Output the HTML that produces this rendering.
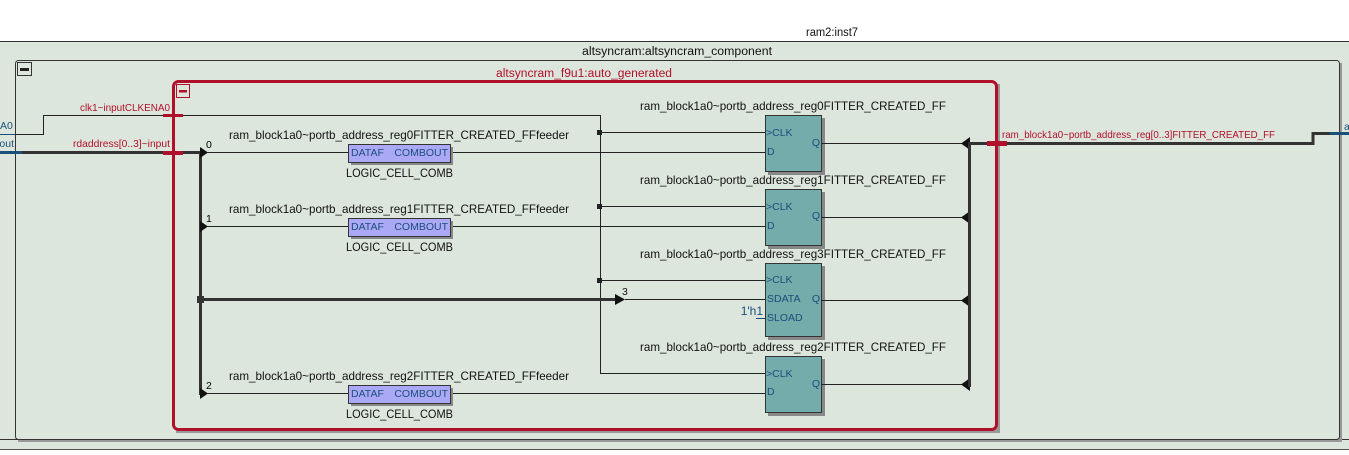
<!DOCTYPE html>
<html><head><style>
html,body{margin:0;padding:0;background:#fff;}
svg{display:block;font-family:"Liberation Sans","DejaVu Sans",sans-serif;}
</style></head><body>
<svg width="1349" height="455" viewBox="0 0 1349 455" xmlns="http://www.w3.org/2000/svg">
<rect x="0" y="0" width="1349" height="455" fill="#fff"/>
<text x="832" y="36" font-size="11.5" text-anchor="middle" fill="#111" textLength="52" lengthAdjust="spacingAndGlyphs">ram2:inst7</text>
<rect x="0" y="41" width="1349" height="399" fill="#dde6dd"/>
<line x1="0" y1="41.5" x2="1349" y2="41.5" stroke="#333" stroke-width="1"/>
<line x1="0" y1="439.5" x2="1349" y2="439.5" stroke="#333"/>
<line x1="0" y1="449.5" x2="1349" y2="449.5" stroke="#555"/>
<rect x="0" y="440" width="1349" height="9" fill="#dde6dd"/>
<text x="677" y="55" font-size="11.5" text-anchor="middle" fill="#111" textLength="190" lengthAdjust="spacingAndGlyphs">altsyncram:altsyncram_component</text>
<rect x="18" y="63" width="1324" height="379" fill="#999"/>
<rect x="15.5" y="60.5" width="1324" height="379" rx="3" fill="#dde6dd" stroke="#333"/>
<rect x="17.5" y="62.5" width="14" height="13" fill="none" stroke="#333"/>
<rect x="20" y="68" width="9" height="3" fill="#222"/>
<text x="584" y="77" font-size="11.5" text-anchor="middle" fill="#b0102a" textLength="176" lengthAdjust="spacingAndGlyphs">altsyncram_f9u1:auto_generated</text>
<rect x="176" y="84" width="824" height="349" fill="#999"/>
<rect x="173.5" y="81.5" width="823" height="348" rx="5" fill="#dde6dd" stroke="#b0102a" stroke-width="3"/>
<rect x="176.5" y="84.5" width="13" height="13" fill="none" stroke="#b0102a"/>
<rect x="179" y="90" width="8" height="2.5" fill="#b0102a"/>
<polyline points="0,134.5 43.5,134.5 43.5,115.5 600.5,115.5 600.5,373.5 765,373.5" fill="none" stroke="#222"/>
<line x1="0" y1="134.5" x2="15" y2="134.5" stroke="#1a4f7a"/>
<text x="0" y="129" font-size="10.5" fill="#1a4f7a">A0</text>
<rect x="163" y="114" width="20" height="3" fill="#b0102a"/>
<text x="170" y="111" font-size="10.5" text-anchor="end" fill="#b0102a" textLength="90" lengthAdjust="spacingAndGlyphs">clk1~inputCLKENA0</text>
<line x1="600" y1="132.5" x2="765" y2="132.5" stroke="#222"/>
<line x1="600" y1="206.5" x2="765" y2="206.5" stroke="#222"/>
<line x1="600" y1="280.5" x2="765" y2="280.5" stroke="#222"/>
<rect x="597" y="130" width="5" height="5" fill="#222"/>
<rect x="597" y="204" width="5" height="5" fill="#222"/>
<rect x="597" y="278" width="5" height="5" fill="#222"/>
<line x1="0" y1="152.5" x2="200" y2="152.5" stroke="#333" stroke-width="3"/>
<line x1="0" y1="152.5" x2="22" y2="152.5" stroke="#1a4f7a" stroke-width="3"/>
<text x="14" y="147" font-size="10.5" fill="#1a4f7a" text-anchor="end">out</text>
<rect x="163" y="151" width="20" height="4" fill="#b0102a"/>
<text x="170" y="147" font-size="10.5" text-anchor="end" fill="#b0102a" textLength="97" lengthAdjust="spacingAndGlyphs">rdaddress[0..3]~input</text>
<line x1="200.5" y1="152" x2="200.5" y2="395" stroke="#333" stroke-width="3"/>
<line x1="200" y1="299.5" x2="615" y2="299.5" stroke="#333" stroke-width="3"/>
<rect x="197" y="296" width="7" height="7" fill="#333"/>
<path d="M615,294 L625,299.5 L615,305z" fill="#111"/>
<line x1="625" y1="299.5" x2="765" y2="299.5" stroke="#222"/>
<text x="622" y="295" font-size="10.5" fill="#111">3</text>
<g fill="#111">
<path d="M200,147 L208,152.5 L200,158z"/><path d="M200,221 L208,226.5 L200,232z"/><path d="M200,388 L208,393.5 L200,399z"/>
</g>
<text x="206" y="148" font-size="10.5">0</text>
<text x="206" y="222" font-size="10.5">1</text>
<text x="206" y="389" font-size="10.5">2</text>
<g stroke="#222">
<line x1="207" y1="152.5" x2="348" y2="152.5"/><line x1="450" y1="152.5" x2="765" y2="152.5"/>
<line x1="207" y1="226.5" x2="348" y2="226.5"/><line x1="450" y1="226.5" x2="765" y2="226.5"/>
<line x1="207" y1="393.5" x2="348" y2="393.5"/><line x1="450" y1="393.5" x2="765" y2="393.5"/>
</g>
<g font-size="12" fill="#111">
<text x="229" y="139" textLength="340" lengthAdjust="spacingAndGlyphs">ram_block1a0~portb_address_reg0FITTER_CREATED_FFfeeder</text>
<text x="229" y="213" textLength="340" lengthAdjust="spacingAndGlyphs">ram_block1a0~portb_address_reg1FITTER_CREATED_FFfeeder</text>
<text x="229" y="380" textLength="340" lengthAdjust="spacingAndGlyphs">ram_block1a0~portb_address_reg2FITTER_CREATED_FFfeeder</text>
<text x="346" y="177" textLength="107" lengthAdjust="spacingAndGlyphs">LOGIC_CELL_COMB</text>
<text x="346" y="251" textLength="107" lengthAdjust="spacingAndGlyphs">LOGIC_CELL_COMB</text>
<text x="346" y="418" textLength="107" lengthAdjust="spacingAndGlyphs">LOGIC_CELL_COMB</text>
</g>
<g>
<rect x="351" y="147" width="102" height="18" fill="#888"/><rect x="348.5" y="144.5" width="102" height="18" fill="#aba8f6" stroke="#333"/>
<rect x="351" y="221" width="102" height="18" fill="#888"/><rect x="348.5" y="218.5" width="102" height="18" fill="#aba8f6" stroke="#333"/>
<rect x="351" y="388" width="102" height="18" fill="#888"/><rect x="348.5" y="385.5" width="102" height="18" fill="#aba8f6" stroke="#333"/>
</g>
<g font-size="10.5" fill="#1a4f7a">
<text x="351" y="156">DATAF</text><text x="448" y="156" text-anchor="end">COMBOUT</text>
<text x="351" y="230">DATAF</text><text x="448" y="230" text-anchor="end">COMBOUT</text>
<text x="351" y="397">DATAF</text><text x="448" y="397" text-anchor="end">COMBOUT</text>
</g>
<g>
<rect x="768" y="118" width="57" height="57" fill="#888"/><rect x="765.5" y="115.5" width="56" height="56" fill="#74abab" stroke="#333"/>
<rect x="768" y="192" width="57" height="57" fill="#888"/><rect x="765.5" y="189.5" width="56" height="56" fill="#74abab" stroke="#333"/>
<rect x="768" y="266" width="57" height="74" fill="#888"/><rect x="765.5" y="263.5" width="56" height="73" fill="#74abab" stroke="#333"/>
<rect x="768" y="359" width="57" height="57" fill="#888"/><rect x="765.5" y="356.5" width="56" height="56" fill="#74abab" stroke="#333"/>
</g>
<g font-size="12" fill="#111">
<text x="640" y="110" textLength="306" lengthAdjust="spacingAndGlyphs">ram_block1a0~portb_address_reg0FITTER_CREATED_FF</text>
<text x="640" y="184" textLength="306" lengthAdjust="spacingAndGlyphs">ram_block1a0~portb_address_reg1FITTER_CREATED_FF</text>
<text x="640" y="258" textLength="306" lengthAdjust="spacingAndGlyphs">ram_block1a0~portb_address_reg3FITTER_CREATED_FF</text>
<text x="640" y="351" textLength="306" lengthAdjust="spacingAndGlyphs">ram_block1a0~portb_address_reg2FITTER_CREATED_FF</text>
</g>
<g font-size="10.5" fill="#1a4f7a">
<text x="766" y="136">&gt;CLK</text><text x="767" y="155">D</text><text x="820" y="146" text-anchor="end">Q</text>
<text x="766" y="210">&gt;CLK</text><text x="767" y="229">D</text><text x="820" y="219" text-anchor="end">Q</text>
<text x="766" y="283">&gt;CLK</text><text x="767" y="302">SDATA</text><text x="767" y="321">SLOAD</text><text x="820" y="302" text-anchor="end">Q</text>
<text x="766" y="377">&gt;CLK</text><text x="767" y="395">D</text><text x="820" y="387" text-anchor="end">Q</text>
</g>
<line x1="756" y1="318.5" x2="765" y2="318.5" stroke="#1a4f7a"/>
<text x="763" y="315" font-size="12" fill="#1a4f7a" text-anchor="end">1'h1</text>
<g stroke="#222">
<line x1="822" y1="143.5" x2="962" y2="143.5"/><line x1="822" y1="217.5" x2="962" y2="217.5"/>
<line x1="822" y1="300.5" x2="962" y2="300.5"/><line x1="822" y1="384.5" x2="962" y2="384.5"/>
</g>
<g fill="#111">
<path d="M970,137 L961,143.5 L970,150z"/><path d="M970,211 L961,217.5 L970,224z"/>
<path d="M970,294 L961,300.5 L970,307z"/><path d="M970,378 L961,384.5 L970,391z"/>
</g>
<line x1="969.5" y1="142" x2="969.5" y2="387" stroke="#333" stroke-width="3"/>
<polyline points="968,143.5 1313,143.5 1313,133.5 1349,133.5" fill="none" stroke="#333" stroke-width="3"/>
<line x1="1330" y1="133.5" x2="1349" y2="133.5" stroke="#1a4f7a" stroke-width="3"/>
<rect x="987" y="141" width="20" height="5" fill="#b0102a"/>
<text x="1002" y="138" font-size="10.5" fill="#b0102a" textLength="273" lengthAdjust="spacingAndGlyphs">ram_block1a0~portb_address_reg[0..3]FITTER_CREATED_FF</text>
<text x="1344" y="130" font-size="10.5" fill="#1a4f7a">a</text>
</svg>
</body></html>
